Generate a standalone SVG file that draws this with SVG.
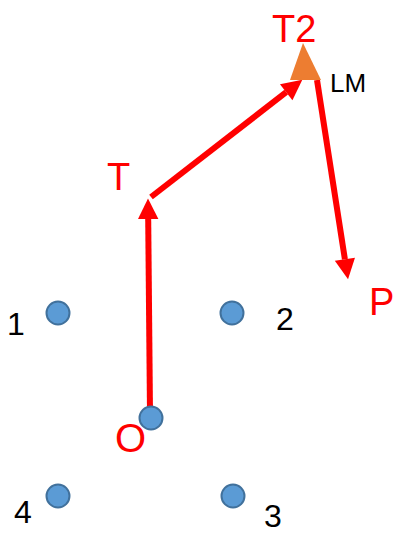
<svg xmlns="http://www.w3.org/2000/svg" width="394" height="537" viewBox="0 0 394 537">
  <style>
    .lbl-red { fill: #FF0000; font-family: "Liberation Sans", Arial, sans-serif; }
    .lbl-blk { fill: #000000; font-family: "Liberation Sans", Arial, sans-serif; font-size: 32px; }
    .dot { fill: #5B9BD5; stroke: #41719C; stroke-width: 2; }
    .link { stroke: #FF0000; stroke-width: 6; fill: none; }
  </style>
  <defs>
    <!-- arrowhead starts where the line ends -->
    <marker id="head" viewBox="0 0 10 10" refX="0" refY="5" markerWidth="3.4" markerHeight="3.4" markerUnits="strokeWidth" orient="auto" overflow="visible">
      <path d="M0,0 L10,5 L0,10 Z" fill="#FF0000"/>
    </marker>
  </defs>

  <g id="connectors">
    <line class="link" x1="150" y1="413" x2="148.2" y2="219" marker-end="url(#head)"/>
    <line class="link" x1="151" y1="197" x2="286.2" y2="92.2" marker-end="url(#head)"/>
    <line class="link" x1="317" y1="80" x2="344.9" y2="259.2" marker-end="url(#head)"/>
  </g>

  <g id="node-LM">
    <polygon points="303,43 290,80 321,80" fill="#ED7D31"/>
    <text class="lbl-blk" x="330" y="92" style="font-size:26px">LM</text>
  </g>
  <g id="node-T2">
    <text class="lbl-red" x="272" y="42" font-size="38">T2</text>
  </g>
  <g id="node-T">
    <text class="lbl-red" x="107" y="190" font-size="38">T</text>
  </g>
  <g id="node-P">
    <text class="lbl-red" x="369" y="315" font-size="38">P</text>
  </g>
  <g id="node-O">
    <circle class="dot" cx="151" cy="418" r="11.5"/>
    <text class="lbl-red" x="115" y="452" font-size="40">O</text>
  </g>
  <g id="node-1">
    <circle class="dot" cx="58" cy="313" r="11.5"/>
    <text class="lbl-blk" x="7" y="335">1</text>
  </g>
  <g id="node-2">
    <circle class="dot" cx="232" cy="313" r="11.5"/>
    <text class="lbl-blk" x="276" y="330">2</text>
  </g>
  <g id="node-3">
    <circle class="dot" cx="233" cy="496" r="11.5"/>
    <text class="lbl-blk" x="264" y="527">3</text>
  </g>
  <g id="node-4">
    <circle class="dot" cx="58" cy="496" r="11.5"/>
    <text class="lbl-blk" x="14" y="523">4</text>
  </g>
</svg>
